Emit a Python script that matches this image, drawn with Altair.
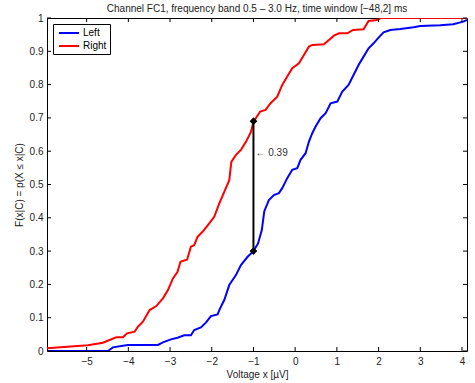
import altair as alt
import pandas as pd

FONT = "Liberation Sans"

# Empirical CDF readings
red_x = [-5.95, -4.97, -4.61, -4.29, -4.13, -4.03, -3.85, -3.77, -3.65, -3.49, -3.33, -3.17,
         -3.05, -2.93, -2.82, -2.75, -2.59, -2.50, -2.42, -2.34, -2.22, -2.06, -1.94, -1.82,
         -1.70, -1.58, -1.53, -1.42, -1.30, -1.18, -1.06, -1.00, -0.84, -0.71, -0.59, -0.43,
         -0.31, -0.19, -0.07, 0.09, 0.21, 0.33, 0.41, 0.69, 0.81, 0.93, 1.05, 1.25, 1.39,
         1.64, 1.76, 1.96, 2.05, 4.12]
red_y = [0.008, 0.017, 0.025, 0.041, 0.041, 0.053, 0.058, 0.073, 0.088, 0.123, 0.135, 0.158,
         0.183, 0.218, 0.238, 0.268, 0.275, 0.313, 0.318, 0.343, 0.358, 0.383, 0.403, 0.443,
         0.478, 0.513, 0.568, 0.589, 0.604, 0.628, 0.658, 0.688, 0.719, 0.724, 0.744, 0.764,
         0.799, 0.824, 0.849, 0.864, 0.889, 0.914, 0.919, 0.921, 0.934, 0.947, 0.954, 0.954,
         0.964, 0.966, 0.991, 0.994, 1.0, 1.0]

blue_x = [-5.95, -4.49, -4.37, -4.17, -4.01, -3.29, -3.17, -2.98, -2.82, -2.66, -2.50, -2.42,
          -2.26, -2.14, -2.02, -1.86, -1.80, -1.70, -1.58, -1.42, -1.30, -1.14, -1.00, -0.89,
          -0.80, -0.74, -0.63, -0.51, -0.39, -0.31, -0.19, -0.07, 0.05, 0.13, 0.25, 0.33,
          0.41, 0.49, 0.61, 0.73, 0.85, 1.01, 1.13, 1.28, 1.40, 1.52, 1.64, 1.76, 1.88,
          2.00, 2.12, 2.28, 2.52, 2.84, 3.00, 3.48, 3.79, 4.03, 4.12]
blue_y = [0.0, 0.0, 0.011, 0.015, 0.018, 0.018, 0.026, 0.035, 0.040, 0.047, 0.047, 0.063,
          0.071, 0.085, 0.105, 0.110, 0.128, 0.153, 0.198, 0.228, 0.258, 0.283, 0.300, 0.323,
          0.363, 0.420, 0.453, 0.468, 0.474, 0.489, 0.519, 0.544, 0.549, 0.574, 0.594, 0.629,
          0.654, 0.674, 0.699, 0.714, 0.744, 0.749, 0.779, 0.799, 0.829, 0.859, 0.884, 0.909,
          0.924, 0.941, 0.957, 0.964, 0.967, 0.972, 0.976, 0.978, 0.981, 0.989, 0.994]

series_names = ["Left", "Right"]
series_colors = ["#0000ff", "#ff0000"]

diff_x = -1.0
diff_lo = 0.30
diff_hi = 0.69
diff_label = "\u2190 0.39"

x_ticks = [-5, -4, -3, -2, -1, 0, 1, 2, 3, 4]
y_ticks = [0, 0.1, 0.2, 0.3, 0.4, 0.5, 0.6, 0.7, 0.8, 0.9, 1.0]
x_domain = [-5.95, 4.12]
y_domain = [0, 1]

title = "Channel FC1, frequency band 0.5 \u2013 3.0 Hz, time window [\u221248,2] ms"
x_title = "Voltage x [\u00b5V]"
y_title = "F(x|C) = p(X \u2264 x|C)"

W, H = 420, 333

df = pd.concat([
    pd.DataFrame({"x": blue_x, "y": blue_y, "series": "Left", "o": range(len(blue_x))}),
    pd.DataFrame({"x": red_x, "y": red_y, "series": "Right", "o": range(len(red_x))}),
])

xs = alt.Scale(domain=x_domain, nice=False, zero=False)
ys = alt.Scale(domain=y_domain, nice=False, zero=False)

x_axis = alt.Axis(values=x_ticks, ticks=False, domain=False, grid=False, labelPadding=5,
                  labelExpr="replace(datum.label, '-', '\u2212')", title=x_title, titlePadding=3,
                  labelFlush=False, labelOverlap=False)
y_axis = alt.Axis(values=y_ticks, ticks=False, domain=False, grid=False, labelPadding=4,
                  title=y_title, titlePadding=5, labelFlush=False, labelOverlap=False,
                  labelExpr="datum.value == 1 ? '1' : datum.value == 0 ? '0' : format(datum.value, '.1f')")


def X(field):
    return alt.X(field, scale=xs, axis=x_axis)


def Y(field):
    return alt.Y(field, scale=ys, axis=y_axis)


lines = alt.Chart(df).mark_line(strokeWidth=2, clip=True).encode(
    x=X("x:Q"),
    y=Y("y:Q"),
    color=alt.Color("series:N", scale=alt.Scale(domain=series_names, range=series_colors),
                    legend=alt.Legend(title=None)),
    order="o:Q",
)

seg = pd.DataFrame({"x": [diff_x], "y": [diff_lo], "y2": [diff_hi]})
rule = alt.Chart(seg).mark_rule(color="black", strokeWidth=2).encode(
    x=X("x:Q"), y=Y("y:Q"), y2="y2:Q")

pts = pd.DataFrame({"x": [diff_x, diff_x], "y": [diff_lo, diff_hi]})
diamonds = alt.Chart(pts).mark_point(shape="diamond", filled=True, color="black", size=60,
                                     opacity=1).encode(x=X("x:Q"), y=Y("y:Q"))

lab = pd.DataFrame({"x": [diff_x], "y": [(diff_lo + diff_hi) / 2 + 0.1], "t": [diff_label]})
label = alt.Chart(lab).mark_text(align="left", baseline="middle", dx=2, fontSize=10,
                                 font=FONT, color="#333333").encode(
    x=X("x:Q"), y=Y("y:Q"), text="t:N")

xt = pd.DataFrame({"x": x_ticks})
yt = pd.DataFrame({"y": y_ticks})
tb = alt.Chart(xt).mark_rule(color="black").encode(
    x=X("x:Q"), y=alt.value(H), y2=alt.value(H - 4))
tt = alt.Chart(xt).mark_rule(color="black").encode(
    x=X("x:Q"), y=alt.value(0), y2=alt.value(4))
tl = alt.Chart(yt).mark_rule(color="black").encode(
    y=Y("y:Q"), x=alt.value(0), x2=alt.value(4))
tr = alt.Chart(yt).mark_rule(color="black").encode(
    y=Y("y:Q"), x=alt.value(W), x2=alt.value(W - 4))

chart = alt.layer(lines, tb, tt, tl, tr, rule, diamonds, label).properties(
    width=W, height=H,
    title=alt.TitleParams(title, fontSize=10, fontWeight="normal", font=FONT, color="#222222",
                          anchor="middle", offset=-1),
    autosize=alt.AutoSizeParams(type="none"),
    padding={"left": 47, "top": 18, "right": 8, "bottom": 32},
).configure_view(
    stroke="black", strokeWidth=1
).configure_axis(
    labelFont=FONT, titleFont=FONT, labelFontSize=10, titleFontSize=10,
    labelColor="#222222", titleColor="#222222", titleFontWeight="normal"
).configure_legend(
    orient="top-left", offset=6, padding=3, strokeColor="black", fillColor="white",
    symbolType="M-2,0L2,0", symbolSize=100, symbolStrokeWidth=2, symbolOffset=7,
    labelFont=FONT, labelFontSize=10, labelColor="#000000", rowPadding=2, labelOffset=8,
    cornerRadius=0, strokeWidth=1
)

chart.save("out.html", embed_options={"renderer": "svg", "actions": False})
